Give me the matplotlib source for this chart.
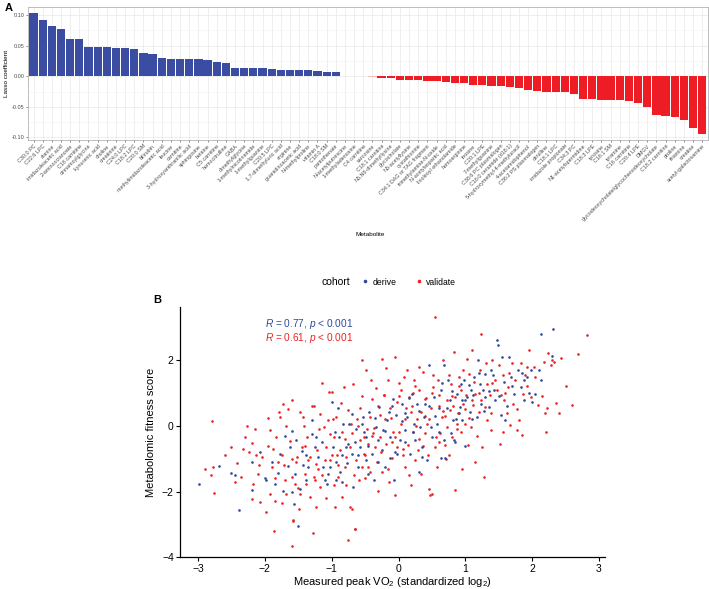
import numpy as np
import matplotlib.pyplot as plt
from matplotlib.colors import to_rgb
from matplotlib.lines import Line2D

plt.rcParams['font.family'] = ['Liberation Sans', 'DejaVu Sans']
plt.rcParams['mathtext.fontset'] = 'custom'
plt.rcParams['mathtext.rm'] = 'Liberation Sans'
plt.rcParams['mathtext.it'] = 'Liberation Sans:italic'

# ---- panel A: lasso coefficients ----
metabolites = [
    "C30:0 PC", "C22:6 LPC", "alanine", "imidazoleacetic acid", "2-aminooctanoate",
    "C18 carnitine", "cinnamoylglycine", "kynurenic acid", "choline", "creatinine",
    "C24:0 LPC", "C18:2 LPC", "C20:0 SM", "bilirubin", "methylimidazoleacetic acid",
    "leucine", "carnitine", "3-hydroxyanthranilic acid", "sphingosine", "betaine",
    "C5 carnitine", "homocitrulline", "GABA", "dimethylglycine", "1-methylnicotinamide",
    "1-methylguanine", "C20:5 LPC", "1,7-dimethyluric acid", "arginine",
    "guanidinoacetic acid", "N-methylproline", "vitamin A", "C18:0 SM", "pantothenate",
    "N-acetylputrescine", "1-methyladenosine", "C4 carnitine", "sarcosine",
    "C18:1 carnitine", "N6,N6-dimethyllysine", "glycocholate", "N6-acetyllysine",
    "cystathionine", "C34:1 DAG or TAG fragment", "trimethylamine-N-oxide",
    "N-acetylaspartic acid", "linoleoyl ethanolamide", "homoarginine", "inosine",
    "C20:1 LPE", "7-methylguanine", "C38:6 PC plasmalogen", "C16:0 ceramide (d18:1)",
    "5-hydroxymethyl-4-methyluracil", "4-acetamidophenol", "C36:2 PS plasmalogen",
    "citrulline", "C18:1 LPC", "imidazole propionate", "C34:3 PC",
    "N1-acetylspermidine", "C18:3 LPE", "tyrosine", "C16:1 SM", "tyramine",
    "C16 carnitine", "C20:4 LPE", "DMGV", "glycodeoxycholate/glycochenodeoxycholate",
    "C18:2 carnitine", "proline", "thiamine", "creatine", "acetyl-galactosamine",
]
coefs = [
    0.104, 0.092, 0.0825, 0.0776, 0.0607, 0.0607, 0.048, 0.0475, 0.0475, 0.0465,
    0.046, 0.0443, 0.0388, 0.0366, 0.0306, 0.029, 0.029, 0.028, 0.028, 0.027,
    0.0235, 0.0213, 0.0137, 0.0137, 0.0137, 0.0131, 0.0126, 0.011, 0.0104, 0.0098,
    0.0098, 0.0093, 0.0071, 0.0066, 0.001, 0.0006, 0.0004, -0.0005, -0.003, -0.003,
    -0.0066, -0.0066, -0.0066, -0.007, -0.008, -0.0101, -0.0104, -0.0115, -0.0137, -0.0148,
    -0.0164, -0.0164, -0.0175, -0.0191, -0.0224, -0.0235, -0.0251, -0.0251, -0.0251, -0.029,
    -0.0366, -0.0372, -0.0383, -0.0383, -0.0383, -0.0399, -0.0437, -0.0503, -0.0628, -0.0656,
    -0.0667, -0.0721, -0.0847, -0.0945,
]

# ---- panel B: fitness score vs measured peak VO2 ----
derive_x = [
    -2.98, -2.68, -2.50, -2.44, -2.39, -2.19, -2.08, -2.00, -1.99, -1.85, -1.80, -1.77,
    -1.73, -1.65, -1.63, -1.60, -1.57, -1.53, -1.50, -1.48, -1.43, -1.38, -1.30, -1.29,
    -1.25, -1.20, -1.10, -1.07, -1.02, -0.99, -0.94, -0.93, -0.89, -0.88, -0.83, -0.79,
    -0.77, -0.74, -0.70, -0.68, -0.63, -0.60, -0.57, -0.53, -0.49, -0.48, -0.44, -0.40,
    -0.37, -0.33, -0.29, -0.25, -0.23, -0.20, -0.17, -0.13, -0.09, -0.07, -0.04, 0.02,
    0.05, 0.09, 0.13, 0.17, 0.20, 0.24, 0.28, 0.32, 0.35, 0.38, 0.42, 0.45, 0.50, 0.53,
    0.57, 0.60, 0.64, 0.68, 0.70, 0.74, 0.78, 0.82, 0.85, 0.88, 0.92, 0.95, 0.98, 1.03,
    1.07, 1.09, 1.13, 1.17, 1.19, 1.23, 1.27, 1.30, 1.35, 1.38, 1.43, 1.47, 1.49, 1.53,
    1.55, 1.60, 1.65, 1.69, 1.73, 1.79, 1.83, 1.88, 1.98, 2.00, 2.05, 2.13, 2.13, 2.29,
    2.31, -0.65, -0.52, -0.30, -0.14, -0.02, 0.10, 0.23, 0.40, 0.49, 0.63, 0.77, 0.90,
    1.00, 1.12, 1.22, 1.30, 1.45, 1.58, -0.84, -0.98, -1.13, -1.23, -1.38, -0.45, -0.13,
    0.68, 0.83, 0.93, 1.88, 1.93,
    -1.90, -1.70, -1.55, -1.45, -1.35, -1.15, -1.05, -0.95, -0.85, -0.75, -0.70, -0.60,
    -0.55, -0.45, -0.35, -0.30, -0.20, -0.10, -0.05, 0.05, 0.10, 0.15, 0.22, 0.30, 0.35,
    0.45, 0.55, 0.60, 0.65, 0.72, 0.80, 0.86, 0.95, 1.05, 1.10, 1.20, 1.28, 1.36, 1.42,
    1.50, 1.62, 1.70, 1.85, 1.95, 2.10, -2.20, -1.60, -0.90, 0.30, 1.00,
]
derive_y = [
    -1.78, -1.23, -1.43, -1.50, -2.57, -1.96, -0.79, -1.60, -1.65, -1.76, -1.43, -0.84,
    -1.99, -1.22, -0.64, -0.15, -2.37, -0.44, -3.06, -1.91, -1.20, -0.89, -0.25, 0.17,
    -0.64, -0.94, -1.65, -1.76, -1.25, 0.73, -1.10, -1.65, -0.34, -1.40, 0.07, -0.64,
    -1.13, 0.07, -0.84, -1.86, -0.08, -1.25, -0.64, 0.27, -0.34, -1.05, 0.43, -0.84,
    -1.65, -0.03, 0.58, -0.74, -0.13, -1.25, 0.17, -0.34, 0.83, -1.65, 0.32, -0.44,
    0.68, -0.13, 0.27, -0.84, 0.98, -0.44, 0.68, -0.03, -0.64, 0.27, -1.05, 1.85, -0.34, 0.88,
    0.07, 0.53, -0.99, 1.85, -0.99, 1.39, -0.23, 0.17, -0.49, 0.98, 0.58, 0.17, 1.39, 0.88,
    0.43, 1.09, 1.49, 0.27, 2.00, 0.68, 1.09, 1.59, 0.58, 1.70, 1.09, 2.61, 2.46, 0.32,
    2.10, 0.17, 2.10, 1.49, 0.98, 1.70, 1.19, 1.39, 1.70, 0.73, 0.98, 2.81, 1.39, 2.12,
    2.94, -0.49, -0.18, -0.44, 0.43, -0.84, 0.38, 0.07, 0.68, -0.03, 1.09, 0.78, 0.38,
    0.78, 0.93, 1.29, 0.88, 0.78, 1.34, -0.89, -0.64, -1.25, -0.34, -1.65, -1.45, -0.99,
    -0.44, -0.44, 1.29, 0.78, 1.49,
    -1.10, -0.30, -1.45, -0.75, -1.25, -0.50, -1.45, -0.20, -1.70, -0.55, 0.35, -0.90,
    0.05, -0.60, 0.25, -1.10, -0.15, 0.60, -0.80, 0.15, -0.50, 0.85, -0.20, 0.45, -0.95,
    0.60, 0.30, -0.20, 1.30, 0.55, 1.05, 0.20, 0.80, 1.25, 0.20, 1.60, 0.45, 1.05, 1.55,
    0.90, 0.60, 1.20, 1.60, 1.00, 1.70, -1.10, -2.00, 0.55, -1.40, -0.60,
]
validate_x = [
    -2.79, -2.80, -2.77, -2.76, -2.50, -2.42, -2.35, -2.27, -2.33, -2.24, -2.20, -2.20,
    -2.18, -2.15, -2.13, -2.09, -2.08, -2.05, -1.98, -1.95, -1.93, -1.93, -1.90, -1.88,
    -1.85, -1.83, -1.80, -1.79, -1.78, -1.75, -1.74, -1.73, -1.70, -1.69, -1.68, -1.65,
    -1.60, -1.59, -1.58, -1.55, -1.53, -1.52, -1.49, -1.48, -1.47, -1.45, -1.43, -1.40,
    -1.39, -1.37, -1.35, -1.33, -1.30, -1.27, -1.25, -1.24, -1.23, -1.22, -1.19, -1.18,
    -1.15, -1.14, -1.12, -1.09, -1.08, -1.05, -1.04, -1.03, -1.00, -0.98, -0.97, -0.95,
    -0.94, -0.92, -0.90, -0.88, -0.85, -0.84, -0.82, -0.80, -0.78, -0.75, -0.73, -0.70,
    -0.72, -0.69, -0.68, -0.65, -0.64, -0.62, -0.59, -0.58, -0.55, -0.54, -0.52, -0.50,
    -0.48, -0.47, -0.45, -0.43, -0.42, -0.39, -0.38, -0.35, -0.34, -0.32, -0.30, -0.28,
    -0.27, -0.24, -0.24, -0.22, -0.19, -0.18, -0.15, -0.14, -0.12, -0.10, -0.08, -0.05,
    -0.05, -0.03, -0.02, 0.03, 0.04, 0.07, 0.08, 0.10, 0.12, 0.14, 0.15, 0.18, 0.19, 0.22,
    0.23, 0.25, 0.27, 0.29, 0.30, 0.33, 0.34, 0.37, 0.39, 0.40, 0.43, 0.44, 0.45, 0.47,
    0.49, 0.50, 0.52, 0.54, 0.55, 0.58, 0.59, 0.62, 0.65, 0.67, 0.69, 0.72, 0.73, 0.75,
    0.77, 0.79, 0.80, 0.83, 0.84, 0.85, 0.87, 0.89, 0.90, 0.93, 0.94, 0.97, 0.99, 1.02,
    1.04, 1.05, 1.08, 1.10, 1.12, 1.14, 1.15, 1.20, 1.22, 1.24, 1.25, 1.28, 1.29, 1.32,
    1.33, 1.37, 1.39, 1.40, 1.45, 1.50, 1.52, 1.54, 1.57, 1.58, 1.62, 1.64, 1.67, 1.70,
    1.72, 1.75, 1.77, 1.80, 1.83, 1.85, 1.87, 1.90, 1.93, 1.95, 1.99, 2.03, 2.08, 2.18,
    2.19, 2.20, 2.22, 2.23, 2.28, 2.30, 2.33, 2.35, 2.40, 2.43, 2.59, 2.68, 2.82,
    -1.87, -1.60, -1.28, -0.76, -0.65, -1.58,
    -0.60, -0.40, -0.20, 0.00, 0.20, 0.40, 0.60, 0.80, 1.00, 1.20, -0.80, -1.00, -0.50,
    -0.30, 0.10, 0.30, 0.50, 0.70, 0.90, 1.10, -1.20, -0.90, -0.10, 0.60, 1.40, 1.60,
    -1.60, -1.40, 0.00, 0.25,
    -2.60, -2.45, -2.30, -2.10, -1.95, -1.85, -1.72, -1.62, -1.50, -1.42, -1.33, -1.26,
    -1.17, -1.10, -1.02, -0.96, -0.86, -0.79, -0.71, -0.66, -0.57, -0.51, -0.46, -0.41,
    -0.36, -0.26, -0.21, -0.16, -0.11, -0.06, 0.01, 0.06, 0.11, 0.16, 0.21, 0.26, 0.31,
    0.36, 0.41, 0.46, 0.51, 0.56, 0.61, 0.66, 0.71, 0.76, 0.81, 0.88, 0.96, 1.01, 1.06,
    1.13, 1.18, 1.23, 1.31, 1.38, 1.47, 1.56, 1.65, 1.78, 1.92, 2.05, 2.15, 2.50, -2.90,
    -0.55, 0.95,
]
validate_y = [
    0.15, -1.48, -1.25, -2.03, -0.64, -1.12, -1.55, -0.01, -0.71, -0.79, -0.52, -2.21,
    -1.76, -0.08, -0.89, -1.20, -2.31, -0.94, -2.62, 0.25, -2.06, -0.13, -1.25, -0.69,
    -1.60, -0.34, -1.10, 0.43, 0.27, -0.89, -2.35, 0.66, -1.65, -2.06, -0.01, 0.52,
    0.78, -1.55, -2.85, -1.76, -1.10, -0.94, -2.52, 0.43, -2.06, -0.64, 0.27, -1.45,
    -1.76, -0.34, -1.05, -2.16, 0.61, 0.61, -1.65, -2.47, -1.15, -0.74, -0.08, -1.86,
    1.31, -1.50, -0.03, -2.18, -0.64, 0.17, 1.04, -1.05, 1.02, 0.22, -0.34, -2.47,
    0.27, -0.89, -1.55, -0.74, -2.16, -0.18, 1.17, -1.25, -1.81, 0.48, -2.47, -2.52,
    -0.64, -0.23, 1.29, -3.13, -1.05, 0.22, -1.65, -0.44, 0.90, -1.25, -0.84, -1.60,
    1.70, -0.08, -0.54, -1.40, 0.27, 0.83, -0.23, -0.64, 1.14, -1.10, -1.98, -0.34,
    0.32, 2.05, -1.40, 0.93, -0.54, 1.75, 1.39, -1.71, 0.53, -0.99, -0.18, 2.10,
    -2.11, -0.64, 0.73, 1.09, 0.07, -0.89, 1.49, -1.25, 1.70, -0.59, 0.88, 0.43, -1.81, -0.18,
    1.39, -1.05, 0.22, -0.74, 1.09, -1.45, 0.43, 1.64, -0.23, 0.83, 0.07, -0.89, -1.91, -2.11,
    0.53, -2.06, 1.19, -0.64, 3.30, -1.25, 1.39, -0.23, 0.27, 2.00, -0.59, 0.78, -0.03, -0.89,
    0.48, 1.29, -0.34, 2.25, 0.88, -1.94, 0.07, 0.38, 1.49, -0.18, 1.09, 0.68, 0.07, 2.05,
    -0.59, 1.59, -0.03, 2.30, 0.63, -1.10, 0.98, 0.43, 1.70, 2.81, -0.64, -1.55, 0.58, 0.17,
    1.29, 0.93, -0.13, 2.00, 1.39, 1.85, -0.54, 0.93, 1.54, 0.78, 0.38, 1.19, 0.02, 1.90,
    0.68, 1.39, -0.13, 0.17, 1.90, -0.28, 0.98, 1.54, 1.80, 2.32, 0.88, 1.78, 0.63, 1.95,
    0.38, -0.18, 0.53, 2.22, 1.85, 2.00, 1.95, 0.70, 0.38, 2.07, 0.63, 2.18, 2.78,
    -3.20, -3.66, -3.25, -3.46, -3.15, -2.90,
    0.00, -0.30, 0.20, -0.20, 0.60, 0.30, 0.60, 0.90, 0.50, 1.00, -0.40, -0.90, -0.90,
    0.60, 0.20, -0.40, 1.00, 0.30, 1.20, 0.80, -1.30, -1.20, -0.50, -0.50, 1.30, 1.00,
    -1.00, -0.60, 0.90, 1.20,
    -0.90, -1.70, -0.35, -1.45, -0.60, -2.30, -1.20, -0.45, -1.90, 0.00, -0.95, -1.55,
    0.35, -1.05, -0.25, -1.80, 0.70, -0.95, 0.05, -1.50, 0.55, -0.35, -1.25, 1.40,
    -0.05, -0.80, 0.95, -1.30, 0.25, -0.35, 1.30, -0.70, 0.55, -1.50, 1.00, 0.00, 1.80,
    -0.60, 0.85, 0.20, 1.55, -0.35, 0.95, 0.45, -1.00, 1.55, 0.60, -0.10, 1.70, 0.95, 0.25,
    1.35, -0.30, 0.80, 1.90, 0.40, 1.10, -0.20, 1.60, 0.50, 1.20, 1.50, 0.90, 1.20, -1.30,
    2.00, -1.30,
]

blue = "#2F4A9B"
red = "#EC2227"
bar_blue = "#3A4DA3"
bar_red = "#EE1C25"


def bar_colour(v):
    # near-zero coefficients fade to white, like a diverging fill scale
    base = np.array(to_rgb(bar_blue if v >= 0 else bar_red))
    t = min(abs(v) / 0.0016, 1.0)
    return tuple(1 - t * (1 - base))


fig = plt.figure(figsize=(7.09, 5.89), dpi=100)

# ----- A -----
axA = fig.add_axes([0.0395, 0.7623, 0.9587, 0.2263])
pos = np.arange(1, len(coefs) + 1)
axA.bar(pos, coefs, width=0.9, color=[bar_colour(v) for v in coefs], zorder=3)
axA.set_xlim(0.4, len(coefs) + 0.6)
axA.set_ylim(-0.1044, 0.1139)
axA.set_yticks([-0.10, -0.05, 0.0, 0.05, 0.10])
axA.set_yticklabels(["-0.10", "-0.05", "0.00", "0.05", "0.10"])
axA.set_yticks([-0.075, -0.025, 0.025, 0.075], minor=True)
axA.set_xticks(pos)
axA.set_xticklabels(metabolites, rotation=45, ha="right", va="top",
                    rotation_mode="anchor", fontsize=3.9, color="#4D4D4D")
axA.grid(True, which="major", color="#EBEBEB", lw=0.6, zorder=0)
axA.grid(True, which="minor", axis="y", color="#F2F2F2", lw=0.4, zorder=0)
axA.tick_params(axis="both", which="major", length=1.5, width=0.4,
                color="#333333", pad=1)
axA.tick_params(axis="y", labelsize=4, labelcolor="#4D4D4D")
axA.tick_params(axis="y", which="minor", length=0)
for s in axA.spines.values():
    s.set_color("#B3B3B3")
    s.set_linewidth(0.6)
axA.set_ylabel("Lasso coefficient", fontsize=4.6, labelpad=2)
fig.text(370 / 709, 1 - 235 / 589, "Metabolite", fontsize=4.6,
         ha="center", va="center")
fig.text(0.006, 0.995, "A", fontsize=8, fontweight="bold", ha="left", va="top")

# ----- B -----
axB = fig.add_axes([0.2539, 0.0538, 0.5994, 0.425])
axB.scatter(validate_x, validate_y, s=3.6, color=red, linewidths=0, zorder=2)
axB.scatter(derive_x, derive_y, s=3.6, color=blue, linewidths=0, zorder=3)
axB.set_xlim(-3.27, 3.09)
axB.set_ylim(-3.98, 3.62)
axB.set_xticks([-3, -2, -1, 0, 1, 2, 3])
axB.set_xticklabels(["\u22123", "\u22122", "\u22121", "0", "1", "2", "3"])
axB.set_yticks([-4, -2, 0, 2])
axB.set_yticklabels(["\u22124", "\u22122", "0", "2"])
axB.tick_params(labelsize=7.5, length=3, width=0.8, pad=1.5)
for s in ["top", "right"]:
    axB.spines[s].set_visible(False)
for s in ["left", "bottom"]:
    axB.spines[s].set_linewidth(0.9)
axB.set_xlabel("Measured peak VO$_2$ (standardized log$_2$)", fontsize=8, labelpad=1)
axB.set_ylabel("Metabolomic fitness score", fontsize=8, labelpad=4)

axB.text(-2.0, 3.09, "$R$ = 0.77, $p$ < 0.001", color=blue, fontsize=7.3,
         ha="left", va="center")
axB.text(-2.0, 2.68, "$R$ = 0.61, $p$ < 0.001", color=red, fontsize=7.3,
         ha="left", va="center")

fig.text(322 / 709, 1 - 282 / 589, "cohort", fontsize=7.5, ha="left", va="center")
handles = [
    Line2D([], [], ls="", marker="o", ms=1.6, color=blue, label="derive"),
    Line2D([], [], ls="", marker="o", ms=1.6, color=red, label="validate"),
]
fig.legend(handles=handles, loc="center left", ncol=2,
           bbox_to_anchor=(362 / 709, 1 - 282 / 589), frameon=False,
           fontsize=6.2, handlelength=0.8, handletextpad=0.4, columnspacing=2.2,
           borderaxespad=0, borderpad=0)
fig.text(157 / 709, 1 - 300 / 589, "B", fontsize=8, fontweight="bold",
         ha="center", va="center")

plt.savefig("out.png", dpi=100)
